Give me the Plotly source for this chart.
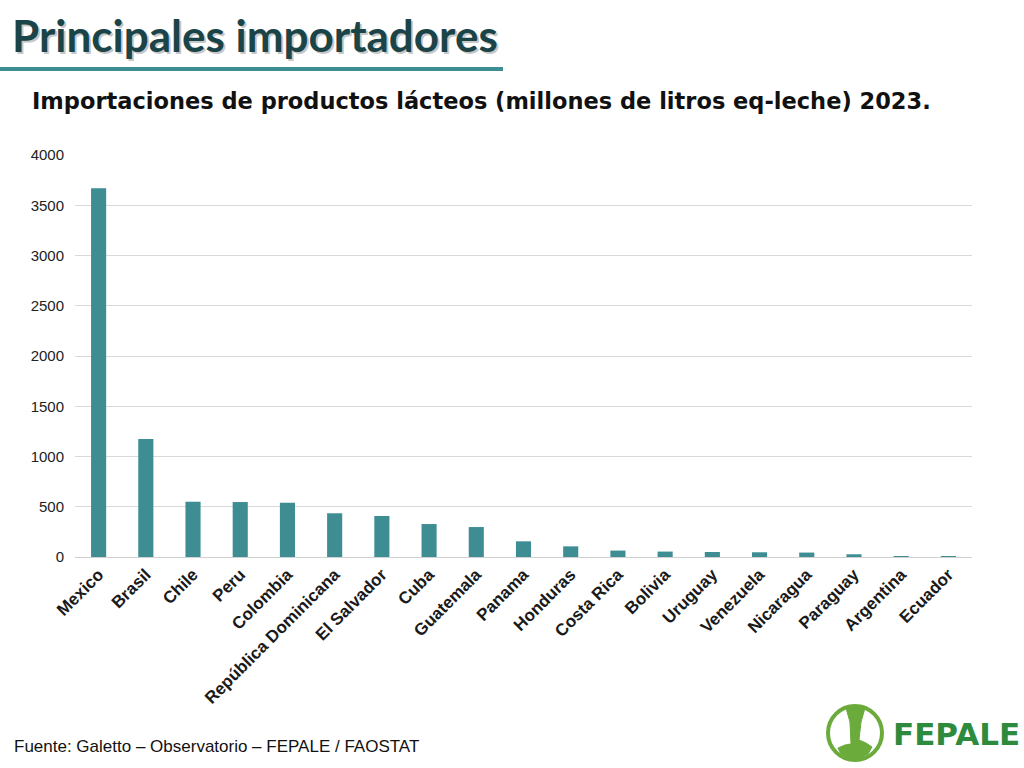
import plotly.graph_objects as go

countries = ["Mexico", "Brasil", "Chile", "Peru", "Colombia", "República Dominicana",
             "El Salvador", "Cuba", "Guatemala", "Panama", "Honduras", "Costa Rica",
             "Bolivia", "Uruguay", "Venezuela", "Nicaragua", "Paraguay", "Argentina", "Ecuador"]
imports_ml = [3670, 1175, 550, 547, 540, 435, 408, 328, 298, 156, 106, 64,
              54, 50, 47, 44, 27, 5, 4]
y_ticks = [0, 500, 1000, 1500, 2000, 2500, 3000, 3500, 4000]

BAR = "#3d8d93"
TITLE = "#1b4448"

L, R, T, B = 75, 972, 155, 557
W, H = R - L, B - T


def px(x):
    return (x - L) / W


def py(y):
    return (B - y) / H


fig = go.Figure(go.Bar(x=countries, y=imports_ml, marker_color=BAR, marker_line_width=0))

fig.update_layout(
    width=1024, height=768,
    margin=dict(l=L, r=1024 - R, t=T, b=768 - B, autoexpand=False),
    paper_bgcolor="white", plot_bgcolor="white",
    bargap=0.68, showlegend=False,
    font=dict(family="Liberation Sans, Arial", color="#222222"),
    xaxis=dict(tickangle=-45, automargin=False,
               tickfont=dict(size=17, family="Liberation Sans, Arial", color="#1a1a1a", weight="bold"),
               showline=True, linecolor="#d0d0d0", linewidth=1, ticks=""),
    yaxis=dict(range=[0, 4000], tickvals=y_ticks, automargin=False, ticklabelstandoff=10,
               tickfont=dict(size=15, color="#222222"),
               showgrid=True, gridcolor="#d9d9d9", gridwidth=1, zeroline=False, ticks="", ticklen=0),
)

# Title with shadow
for dx, dy, col in [(2, 2, "rgba(0,0,0,0.22)"), (0, 0, TITLE)]:
    fig.add_annotation(x=px(10 + dx), y=py(35 + dy), xref="paper", yref="paper",
                       xanchor="left", yanchor="middle", showarrow=False,
                       text="<b>Principales importadores</b>",
                       font=dict(family="Lato", size=44, color=col))
# underline
fig.add_shape(type="line", xref="paper", yref="paper", x0=px(0), x1=px(503),
              y0=py(69), y1=py(69), line=dict(color="#3d8d93", width=4))

# Subtitle
fig.add_annotation(x=px(30), y=py(101), xref="paper", yref="paper", xanchor="left", yanchor="middle",
                   showarrow=False,
                   text="<b>Importaciones de productos lácteos (millones de litros eq-leche) 2023.</b>",
                   font=dict(family="DejaVu Sans", size=22.5, color="#111111"))

# Source
fig.add_annotation(x=px(12), y=py(746), xref="paper", yref="paper", xanchor="left", yanchor="middle",
                   showarrow=False, text="Fuente: Galetto – Observatorio – FEPALE / FAOSTAT",
                   font=dict(family="Liberation Sans, Arial", size=17, color="#111111"))

# Logo
cx, cy, r = 855, 733, 27
fig.add_shape(type="circle", xref="paper", yref="paper",
              x0=px(cx - r), x1=px(cx + r), y0=py(cy + r), y1=py(cy - r),
              line=dict(color="#6aab3c", width=4))


def P(x, y):
    return f"{px(x):.5f},{py(y):.5f}"


pts = [(846, 708), (865, 708), (861, 722), (859, 740), (866, 743), (872, 747), (868, 754),
       (860, 758), (850, 758), (841, 754), (838, 748), (845, 745), (851, 744), (850, 722)]
path = "M " + " L ".join(P(x, y) for x, y in pts) + " Z"
fig.add_shape(type="path", xref="paper", yref="paper", path=path,
              fillcolor="#6aab3c", line=dict(color="#6aab3c", width=1))
fig.add_annotation(x=px(891), y=py(734), xref="paper", yref="paper", xanchor="left", yanchor="middle",
                   showarrow=False, text="<b>FEPALE</b>",
                   font=dict(family="DejaVu Sans", size=31, color="#2e8b3e"))

fig.write_html("out.html", config={"displayModeBar": False},
               post_script="document.body.style.margin='0';")
